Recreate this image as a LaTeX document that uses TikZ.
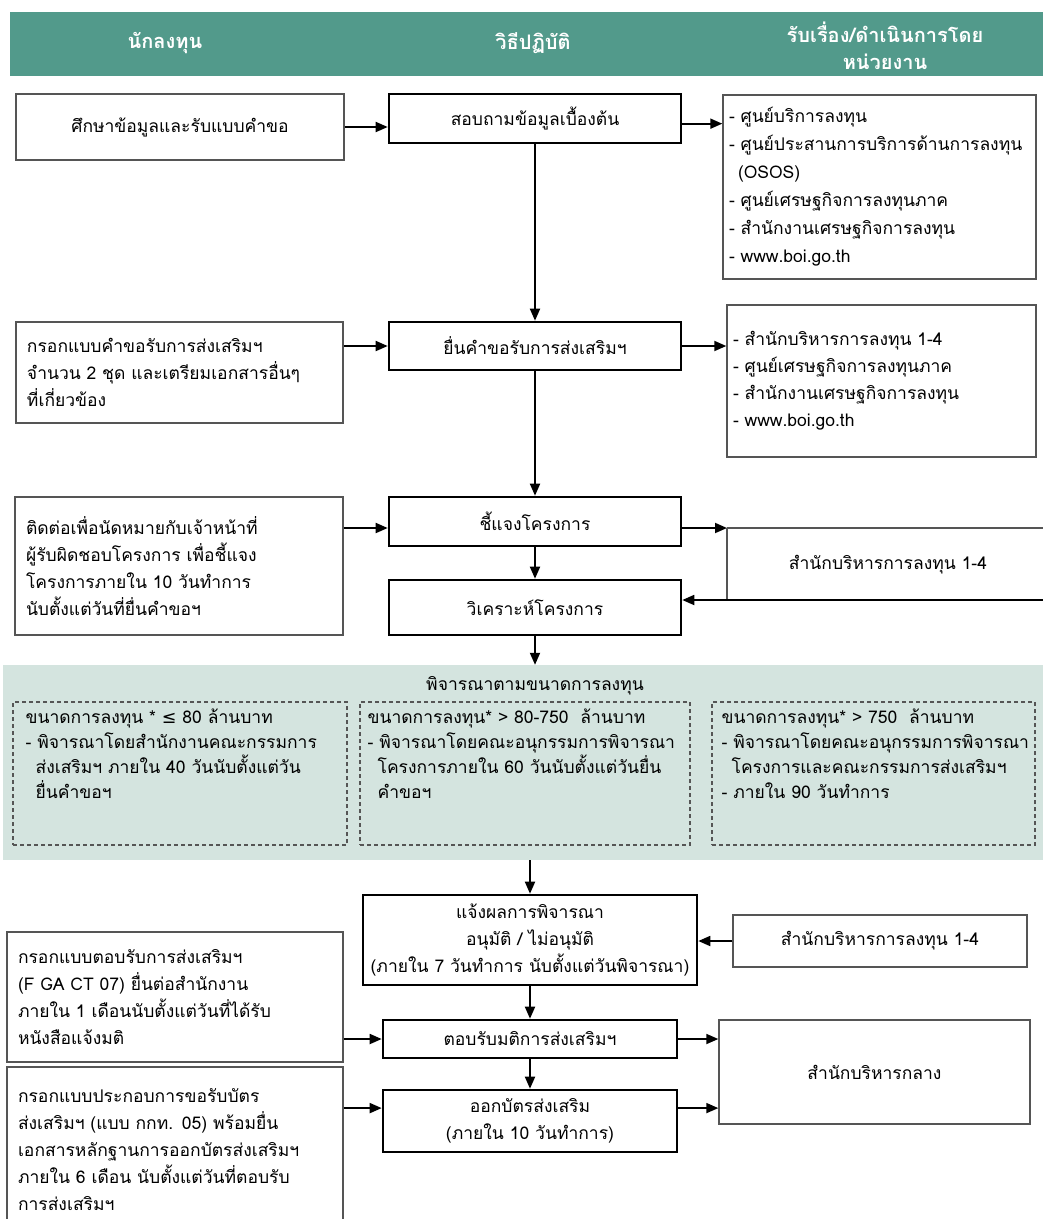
\documentclass[tikz,border=0pt]{standalone}
\usepackage{fontspec}
\setmainfont[Script=Thai]{Loma}
\newfontfamily\symf{DejaVu Sans}
\usetikzlibrary{arrows.meta,calc}
\definecolor{hdr}{HTML}{529A8B}
\definecolor{zone}{HTML}{D4E4DF}
\definecolor{edgec}{HTML}{555555}
\begin{document}
\begin{tikzpicture}[x=1pt,y=-1pt,
  txt/.style={font=\fontsize{17.5}{27}\selectfont},
  sidebox/.style={txt,draw=edgec,line width=1.4pt,inner sep=0pt,fill=white},
  lbox/.style={sidebox,align=left,inner xsep=11pt},
  midbox/.style={txt,draw=black,line width=2.6pt,inner sep=0pt,align=center,fill=white},
  hdrtext/.style={text=white,font=\bfseries\fontsize{20}{27}\selectfont,align=center},
  dbox/.style={draw=edgec,line width=1.2pt,dash pattern=on 4pt off 3pt,inner sep=0pt},
  dtext/.style={font=\fontsize{17.5}{25}\selectfont,align=left,inner sep=0pt,anchor=north west},
  arr/.style={line width=1.8pt,-{Triangle[length=12pt,width=10pt]}},
  edgeline/.style={draw=edgec,line width=1.4pt}]
\useasboundingbox[fill=white] (0,0) rectangle (1043,1219);

% header
\node[fill=hdr,minimum width=1033pt,minimum height=64pt,inner sep=0pt] (HD) at (526.5,44) {};
\node[hdrtext] (H1) at (165,43) {นักลงทุน};
\node[hdrtext] (H2) at (533,43) {วิธีปฏิบัติ};
\node[hdrtext] (H3) at (885,46) {รับเรื่อง/ดำเนินการโดย\\หน่วยงาน};

% row 1
\node[sidebox,minimum width=328pt,minimum height=66pt] (L1) at (180,127) {ศึกษาข้อมูลและรับแบบคำขอ};
\node[midbox,minimum width=292pt,minimum height=49pt] (M1) at (535,118.5) {สอบถามข้อมูลเบื้องต้น};
\coordinate (m1e) at ($(M1.north east)!0.6!(M1.south east)$);
\node[lbox,font=\fontsize{17.5}{28}\selectfont,minimum width=313pt,minimum height=184pt,text width=301pt,inner xsep=6pt] (R1) at (879.5,187) {-~ศูนย์บริการลงทุน\\-~ศูนย์ประสานการบริการด้านการลงทุน\\\hspace*{9pt}(OSOS)\\-~ศูนย์เศรษฐกิจการลงทุนภาค\\-~สำนักงานเศรษฐกิจการลงทุน\\-~www.boi.go.th};

% row 2
\node[lbox,minimum width=327pt,minimum height=101pt,text width=305pt] (L2) at (179.5,372.5) {กรอกแบบคำขอรับการส่งเสริมฯ\\จำนวน 2 ชุด และเตรียมเอกสารอื่นๆ\\ที่เกี่ยวข้อง};
\node[midbox,minimum width=292pt,minimum height=48pt] (M2) at (535,346) {ยื่นคำขอรับการส่งเสริมฯ};
\node[lbox,minimum width=309pt,minimum height=152pt,text width=297pt,inner xsep=6pt] (R2) at (881.5,381) {-~สำนักบริหารการลงทุน 1-4\\-~ศูนย์เศรษฐกิจการลงทุนภาค\\-~สำนักงานเศรษฐกิจการลงทุน\\-~www.boi.go.th\\[-4pt]};

% row 3
\node[lbox,minimum width=328pt,minimum height=138pt,text width=306pt] (L3) at (179,566) {ติดต่อเพื่อนัดหมายกับเจ้าหน้าที่\\ผู้รับผิดชอบโครงการ เพื่อชี้แจง\\โครงการภายใน 10 วันทำการ\\นับตั้งแต่วันที่ยื่นคำขอฯ};
\node[midbox,minimum width=292pt,minimum height=49pt] (M3) at (535,521.5) {ชี้แจงโครงการ};
\node[midbox,minimum width=292pt,minimum height=55pt] (M4) at (535,607.5) {วิเคราะห์โครงการ};
\coordinate (bTL) at (727,528);
\coordinate (bTR) at (1045,528);
\coordinate (bBL) at (727,600);
\coordinate (bBR) at (1045,600);
\node[txt] (R3) at (888,565) {สำนักบริหารการลงทุน 1-4};

% zone
\node[fill=zone,minimum width=1040pt,minimum height=195pt,inner sep=0pt] (GZ) at (523,762.5) {};
\node[txt] (ZT) at (535,686) {พิจารณาตามขนาดการลงทุน};
\node[dbox,minimum width=334pt,minimum height=143pt] (D1) at (180,773.5) {};
\node[dbox,minimum width=330pt,minimum height=143pt] (D2) at (525,773.5) {};
\node[dbox,minimum width=323pt,minimum height=143pt] (D3) at (873.5,773.5) {};
\node[dtext] (D1t) at ($(D1.north west)+(13,7)$) {ขนาดการลงทุน * {\symf ≤} 80 ล้านบาท\\-~พิจารณาโดยสำนักงานคณะกรรมการ\\\hspace*{10pt}ส่งเสริมฯ ภายใน 40 วันนับตั้งแต่วัน\\\hspace*{10pt}ยื่นคำขอฯ};
\node[dtext] (D2t) at ($(D2.north west)+(8,7)$) {ขนาดการลงทุน* > 80-750\ \ ล้านบาท\\-~พิจารณาโดยคณะอนุกรรมการพิจารณา\\\hspace*{10pt}โครงการภายใน 60 วันนับตั้งแต่วันยื่น\\\hspace*{10pt}คำขอฯ};
\node[dtext] (D3t) at ($(D3.north west)+(10,7)$) {ขนาดการลงทุน* > 750\ \ ล้านบาท\\-~พิจารณาโดยคณะอนุกรรมการพิจารณา\\\hspace*{10pt}โครงการและคณะกรรมการส่งเสริมฯ\\-~ภายใน 90 วันทำการ};

% bottom part
\node[midbox,minimum width=334pt,minimum height=90pt] (M5) at (530,940) {แจ้งผลการพิจารณา\\อนุมัติ / ไม่อนุมัติ\\(ภายใน 7 วันทำการ นับตั้งแต่วันพิจารณา)};
\node[sidebox,minimum width=294pt,minimum height=52pt] (R4) at (880,941) {สำนักบริหารการลงทุน 1-4};
\node[lbox,minimum width=336pt,minimum height=130pt,text width=314pt] (L4) at (175,997) {กรอกแบบตอบรับการส่งเสริมฯ\\(F GA CT 07) ยื่นต่อสำนักงาน\\ภายใน 1 เดือนนับตั้งแต่วันที่ได้รับ\\หนังสือแจ้งมติ};
\node[midbox,minimum width=294pt,minimum height=38pt] (M6) at (530,1039) {ตอบรับมติการส่งเสริมฯ};
\node[midbox,minimum width=294pt,minimum height=62pt] (M7) at (530,1121) {ออกบัตรส่งเสริม\\(ภายใน 10 วันทำการ)};
\node[sidebox,minimum width=311pt,minimum height=104pt] (R5) at (874.5,1072) {สำนักบริหารกลาง};
\node[lbox,minimum width=336pt,minimum height=165pt,text width=314pt] (L5) at (175,1149.5) {กรอกแบบประกอบการขอรับบัตร\\ส่งเสริมฯ (แบบ กกท. 05) พร้อมยื่น\\เอกสารหลักฐานการออกบัตรส่งเสริมฯ\\ภายใน 6 เดือน นับตั้งแต่วันที่ตอบรับ\\การส่งเสริมฯ};
\coordinate (m7w) at ($(M7.north west)!0.3!(M7.south west)$);
\coordinate (m7e) at ($(M7.north east)!0.3!(M7.south east)$);

% connectors
\draw[arr] (L1.east) -- (L1.east -| M1.west);
\draw[arr] (m1e) -- (m1e -| R1.west);
\draw[arr] (M1.south) -- (M2.north);
\draw[arr] (L2.east |- M2.east) -- (M2.west);
\draw[arr] (M2.east) -- (M2.east -| R2.west);
\draw[arr] (M2.south) -- (M3.north);
\draw[arr] (L3.east |- bTL) -- (M3.west |- bTL);
\draw[arr] (M3.east |- bTL) -- (bTL);
\draw[edgeline] (bTL) -- (bTR);
\draw[edgeline] (bTL) -- (bBL);
\draw[arr] (bBR) -- (bBR -| M4.east);
\draw[arr] (M3.south) -- (M4.north);
\draw[arr] (M4.south) -- (M4.south |- GZ.north);
\draw[arr] (GZ.south -| M5.north) -- (M5.north);
\draw[arr] (R4.west) -- (R4.west -| M5.east);
\draw[arr] (M5.south) -- (M6.north);
\draw[arr] (M6.south) -- (M7.north);
\draw[arr] (L4.east |- M6.east) -- (M6.west);
\draw[arr] (L5.east |- m7w) -- (m7w);
\draw[arr] (M6.east) -- (M6.east -| R5.west);
\draw[arr] (m7e) -- (m7e -| R5.west);
\end{tikzpicture}
\end{document}
